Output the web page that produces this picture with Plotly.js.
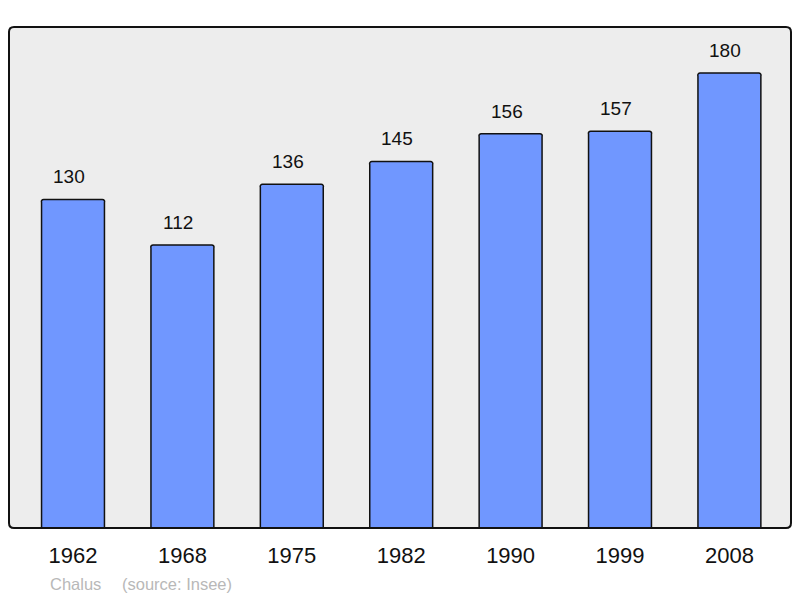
<!DOCTYPE html>
<html>
<head>
<meta charset="utf-8">
<script src="https://cdn.plot.ly/plotly-3.0.1.min.js"></script>
<style>
  html, body { margin: 0; padding: 0; background: #fff; }
  #myDiv { width: 800px; height: 598px; }
</style>
</head>
<body>
<div id="myDiv"></div>
<script>
var years = ['1962', '1968', '1975', '1982', '1990', '1999', '2008'];
var population = [130, 112, 136, 145, 156, 157, 180];

var W = 800, H = 598;
var m = {l: 9, r: 9, t: 27, b: 70};
var pw = W - m.l - m.r, ph = H - m.t - m.b;

// rounded frame around the plot area, in paper units
var rx = 5 / pw, ry = 5 / ph;
var frame = 'M ' + rx + ',0 L ' + (1 - rx) + ',0 Q 1,0 1,' + ry +
  ' L 1,' + (1 - ry) + ' Q 1,1 ' + (1 - rx) + ',1 L ' + rx + ',1 Q 0,1 0,' + (1 - ry) +
  ' L 0,' + ry + ' Q 0,0 ' + rx + ',0 Z';

var trace = {
  x: years,
  y: population,
  type: 'bar',
  width: 0.575,
  marker: {
    color: '#7097ff',
    line: {color: '#111', width: 1.5},
    cornerradius: 3
  },
  hoverinfo: 'x+y'
};

var labels = population.map(function (v, i) {
  return {
    x: i, y: v,
    xref: 'x', yref: 'y',
    text: String(v),
    showarrow: false,
    yanchor: 'bottom',
    xshift: -4,
    yshift: 10,
    font: {family: 'Liberation Sans, Arial, sans-serif', size: 19, color: '#111'}
  };
});

labels.push({
  xref: 'paper', yref: 'paper',
  x: (48 - m.l) / pw, y: -(584 - H + m.b) / ph,
  xanchor: 'left', yanchor: 'middle',
  text: 'Chalus', showarrow: false,
  font: {family: 'Liberation Sans, Arial, sans-serif', size: 16.5, color: '#b8b8b8'}
});
labels.push({
  xref: 'paper', yref: 'paper',
  x: (120 - m.l) / pw, y: -(584 - H + m.b) / ph,
  xanchor: 'left', yanchor: 'middle',
  text: '(source: Insee)', showarrow: false,
  font: {family: 'Liberation Sans, Arial, sans-serif', size: 16.5, color: '#b8b8b8'}
});

var layout = {
  width: W,
  height: H,
  margin: m,
  paper_bgcolor: '#ffffff',
  plot_bgcolor: '#ededed',
  showlegend: false,
  bargap: 0,
  xaxis: {
    type: 'category',
    range: [-0.585, 6.563],
    showgrid: false,
    zeroline: false,
    showline: false,
    ticks: 'outside',
    ticklen: 8,
    tickcolor: 'rgba(0,0,0,0)',
    tickfont: {family: 'Liberation Sans, Arial, sans-serif', size: 22, color: '#111'},
    fixedrange: true
  },
  yaxis: {
    range: [0, 198.2],
    showgrid: false,
    zeroline: false,
    showline: false,
    showticklabels: false,
    ticks: '',
    fixedrange: true
  },
  shapes: [{
    type: 'path',
    xref: 'paper', yref: 'paper',
    path: frame,
    line: {color: '#111', width: 2},
    layer: 'above'
  }],
  annotations: labels
};

Plotly.newPlot('myDiv', [trace], layout, {displayModeBar: false, staticPlot: true});
</script>
</body>
</html>
